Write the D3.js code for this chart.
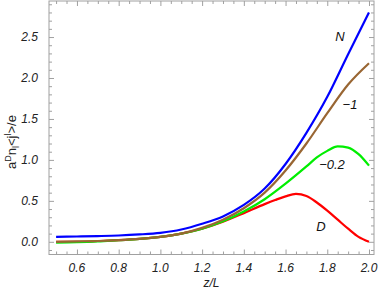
<!DOCTYPE html>
<html><head><meta charset="utf-8">
<script src="https://cdn.jsdelivr.net/npm/d3@7"></script>
<style>body{margin:0;background:#fff}svg{display:block}text{font-family:"Liberation Sans",Arial,sans-serif}</style>
</head><body><svg id="c" width="382" height="300"></svg>
<script>
const zN = [0.5,0.6,0.7,0.8,0.9,1.0,1.1,1.2,1.3,1.4,1.5,1.6,1.7,1.8,1.9,2.0];
const seriesN = [0.06,0.065,0.07,0.077,0.09,0.11,0.15,0.22,0.31,0.45,0.65,0.95,1.33,1.77,2.29,2.80];
const seriesM1 = [0.0,0.005,0.01,0.02,0.035,0.06,0.1,0.17,0.27,0.41,0.6,0.87,1.2,1.57,1.92,2.18];
const zG = [0.5,0.6,0.7,0.8,0.9,1.0,1.1,1.2,1.3,1.4,1.5,1.6,1.7,1.75,1.8,1.85,1.9,1.95,2.0];
const seriesM02 = [-0.01,-0.005,0.005,0.02,0.035,0.06,0.1,0.16,0.25,0.37,0.52,0.71,0.92,1.03,1.11,1.165,1.15,1.07,0.93];
const zD = [0.5,0.6,0.7,0.8,0.9,1.0,1.1,1.2,1.3,1.4,1.5,1.55,1.6,1.65,1.7,1.75,1.8,1.85,1.9,1.95,2.0];
const seriesD = [0.0,0.0,0.01,0.02,0.035,0.06,0.1,0.16,0.245,0.35,0.46,0.51,0.555,0.585,0.56,0.48,0.38,0.27,0.16,0.06,0.0];
const xMajor = [0.6,0.8,1.0,1.2,1.4,1.6,1.8,2.0];
const yMajor = [0.0,0.5,1.0,1.5,2.0,2.5];
const labels = ["N","\u22121","\u22120.2","D"];

const svg = d3.select("#c");
const L=49,R=374,T=1,B=254.5;
const x = d3.scaleLinear().domain([0.466,2.024]).range([L,R]);
const y = d3.scaleLinear().domain([-0.155,2.94]).range([B,T]);

const frame="#a0a0a0";
const xMinor = d3.range(0.5,2.0001,0.05).map(v=>+v.toFixed(2)).filter(v=>!xMajor.some(m=>Math.abs(m-v)<1e-6));
const yMinor = d3.range(-0.1,2.9001,0.1).map(v=>+v.toFixed(2)).filter(v=>!yMajor.some(m=>Math.abs(m-v)<1e-6));

function ticks(axisGen, vals, size, tr){
  const g = svg.append("g").attr("transform",tr).call(axisGen.tickValues(vals).tickSize(size).tickFormat(""));
  g.select(".domain").remove();
  g.selectAll("line").attr("stroke",frame);
  return g;
}
ticks(d3.axisTop(x), xMajor, 5, `translate(0,${B})`);
ticks(d3.axisTop(x), xMinor, 3, `translate(0,${B})`);
ticks(d3.axisBottom(x), xMajor, 5, `translate(0,${T})`);
ticks(d3.axisBottom(x), xMinor, 3, `translate(0,${T})`);
ticks(d3.axisRight(y), yMajor, 5, `translate(${L},0)`);
ticks(d3.axisRight(y), yMinor, 3, `translate(${L},0)`);
ticks(d3.axisLeft(y), yMajor, 5, `translate(${R},0)`);
ticks(d3.axisLeft(y), yMinor, 3, `translate(${R},0)`);

svg.append("rect").attr("x",L).attr("y",T).attr("width",R-L).attr("height",B-T)
  .attr("fill","none").attr("stroke",frame).attr("stroke-width",1);

// tick labels
svg.append("g").selectAll("text").data(xMajor).join("text")
  .attr("x",d=>x(d)).attr("y",B+17).attr("text-anchor","middle")
  .attr("font-size",12).attr("font-style","italic").attr("fill","#222").text(d=>d.toFixed(1));
svg.append("g").selectAll("text").data(yMajor).join("text")
  .attr("x",L-11).attr("y",d=>y(d)+4).attr("text-anchor","end")
  .attr("font-size",12).attr("font-style","italic").attr("fill","#222").text(d=>d.toFixed(1));

// axis titles
svg.append("text").attr("x",(L+R)/2).attr("y",287).attr("text-anchor","middle")
  .attr("font-size",12).attr("font-style","italic").attr("fill","#222").text("z/L");
const yl = svg.append("text").attr("transform","translate(16,142) rotate(-90)").attr("text-anchor","middle")
  .attr("font-size",13).attr("fill","#222");
yl.append("tspan").text("a");
yl.append("tspan").attr("font-size",9).attr("dy",-5).text("D");
yl.append("tspan").attr("dy",5).text("n");
yl.append("tspan").attr("font-size",9).attr("dy",3).text("l");
yl.append("tspan").attr("dy",-3).text("<j");
yl.append("tspan").attr("font-size",9).attr("dy",-5).text("l");
yl.append("tspan").attr("dy",5).text(">/e");

// curves
const line = d3.line().x(d=>x(d[0])).y(d=>y(d[1])).curve(d3.curveMonotoneX);
const curves = [
  {z:zD, v:seriesD, c:"#ff0000"},
  {z:zG, v:seriesM02, c:"#00ee00"},
  {z:zN, v:seriesM1, c:"#996633"},
  {z:zN, v:seriesN, c:"#0000ff"}
];
svg.append("g").selectAll("path").data(curves).join("path")
  .attr("d",d=>line(d.z.map((z,i)=>[z,d.v[i]])))
  .attr("fill","none").attr("stroke",d=>d.c).attr("stroke-width",2.2);

const labPos = [[340,41],[350,109],[332,169],[321,231]];
svg.append("g").selectAll("text").data(labels).join("text")
  .attr("x",(d,i)=>labPos[i][0]).attr("y",(d,i)=>labPos[i][1]).attr("text-anchor","middle")
  .attr("font-size",13).attr("font-style","italic").attr("fill","#111").text(d=>d);
</script></body></html>
